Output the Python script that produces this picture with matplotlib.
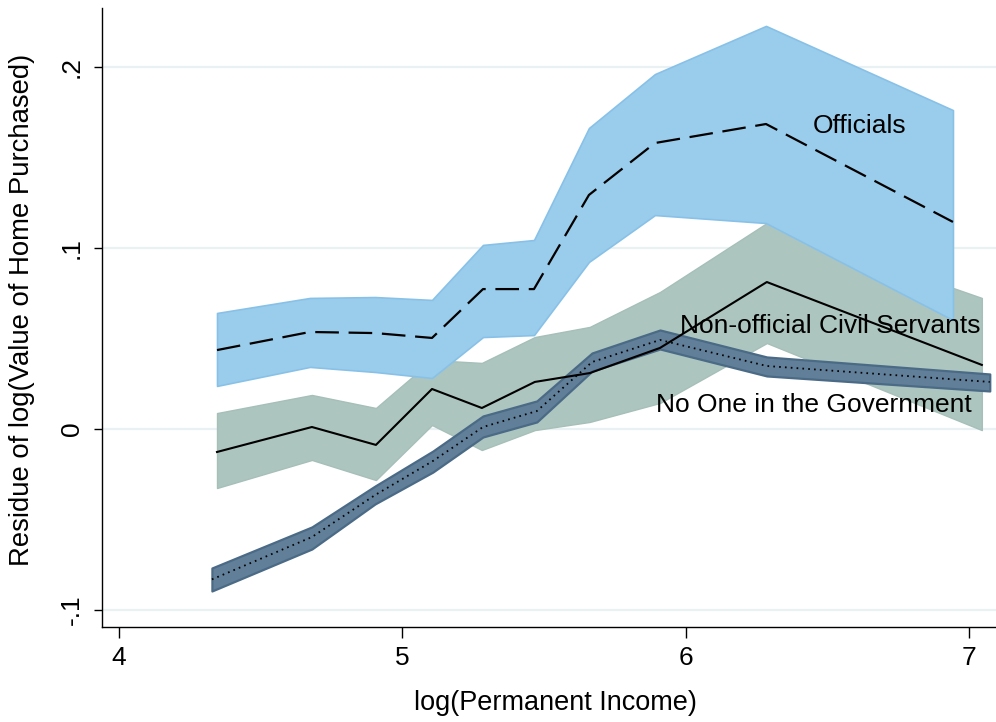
import matplotlib
matplotlib.use("Agg")
import matplotlib.pyplot as plt

# Binned residuals of log(home value) by log(permanent income), three household groups
x_off = [4.346, 4.674, 4.904, 5.105, 5.285, 5.465, 5.659, 5.892, 6.284, 6.944]
off_mean = [0.0436, 0.0536, 0.0530, 0.0503, 0.0773, 0.0773, 0.1293, 0.1580, 0.1685, 0.1144]
off_hi = [0.0641, 0.0724, 0.0729, 0.0713, 0.1017, 0.1044, 0.1663, 0.1961, 0.2227, 0.1762]
off_lo = [0.0238, 0.0343, 0.0315, 0.0282, 0.0508, 0.0519, 0.0923, 0.1182, 0.1138, 0.0602]

x_civ = [4.346, 4.681, 4.907, 5.105, 5.281, 5.468, 5.662, 5.910, 6.287, 7.046]
civ_mean = [-0.0127, 0.0011, -0.0088, 0.0221, 0.0116, 0.0260, 0.0309, 0.0448, 0.0812, 0.0354]
civ_hi = [0.0088, 0.0188, 0.0116, 0.0381, 0.0365, 0.0508, 0.0564, 0.0757, 0.1138, 0.0724]
civ_lo = [-0.0326, -0.0171, -0.0282, 0.0022, -0.0116, -0.0006, 0.0039, 0.0144, 0.0475, -0.0006]

x_none = [4.328, 4.681, 4.904, 5.108, 5.285, 5.475, 5.670, 5.910, 6.287, 7.074]
none_mean = [-0.0831, -0.0597, -0.0365, -0.0177, 0.0011, 0.0099, 0.0370, 0.0492, 0.0348, 0.0260]
none_hi = [-0.0768, -0.0541, -0.0315, -0.0122, 0.0072, 0.0155, 0.0420, 0.0547, 0.0398, 0.0304]
none_lo = [-0.0895, -0.0663, -0.0414, -0.0238, -0.0044, 0.0039, 0.0320, 0.0442, 0.0293, 0.0210]

x_ticks = [4, 5, 6, 7]
y_ticks = [-0.1, 0, 0.1, 0.2]
y_ticklabels = ["-.1", "0", ".1", ".2"]

plt.rcParams["font.family"] = ["Liberation Sans", "DejaVu Sans"]
plt.rcParams["lines.scale_dashes"] = False

fig = plt.figure(figsize=(9.96, 7.22), dpi=100)
ax = fig.add_axes([102 / 996, 1 - 627 / 722, 1 - 102 / 996, (627 - 8) / 722])

ax.set_xlim(3.94, 7.096)
ax.set_ylim(-0.1094, 0.2326)

for yv in y_ticks:
    ax.axhline(yv, color="#EAF1F3", lw=1.6, zorder=0)

# confidence bands
ax.fill_between(x_civ, civ_lo, civ_hi, facecolor="#ADC5BF", edgecolor="#A6BFB9",
                lw=1.0, zorder=1)
ax.fill_between(x_off, off_lo, off_hi, facecolor="#9ACDEB", edgecolor="#88C1E8",
                lw=1.2, zorder=2)
ax.fill_between(x_none, none_lo, none_hi, facecolor="#617F98", edgecolor="#4A6A86",
                lw=1.6, zorder=3)

# group means
ax.plot(x_civ, civ_mean, color="black", lw=1.5, zorder=4)
ax.plot(x_off, off_mean, color="black", lw=1.6, dashes=(17, 7), zorder=4)
ax.plot(x_none, none_mean, color="black", lw=1.3, dashes=(1.2, 3.0), zorder=4)

label_kw = dict(fontsize=19, color="black", ha="left", va="baseline", zorder=5)
ax.text(6.450, 0.1635, "Officials", **label_kw)
ax.text(5.980, 0.0530, "Non-official Civil Servants", **label_kw)
ax.text(5.897, 0.0094, "No One in the Government", **label_kw)

ax.spines["top"].set_visible(False)
ax.spines["right"].set_visible(False)
for s in ("left", "bottom"):
    ax.spines[s].set_linewidth(1.0)
    ax.spines[s].set_color("black")

ax.set_xticks(x_ticks)
ax.set_xticklabels([str(t) for t in x_ticks])
ax.set_yticks(y_ticks)
ax.set_yticklabels(y_ticklabels, rotation=90, va="center")
ax.tick_params(axis="x", length=8, width=1.0, pad=6, labelsize=19)
ax.tick_params(axis="y", length=6, width=1.0, pad=7, labelsize=19)

ax.set_xlabel("log(Permanent Income)", fontsize=19.5, va="center", ha="center")
ax.xaxis.set_label_coords(0.507, -0.123)
ax.set_ylabel("Residue of log(Value of Home Purchased)", fontsize=19.8,
              va="center", ha="center")
ax.yaxis.set_label_coords(-0.0895, 0.512)

fig.savefig("out.png", dpi=100, facecolor="white")
